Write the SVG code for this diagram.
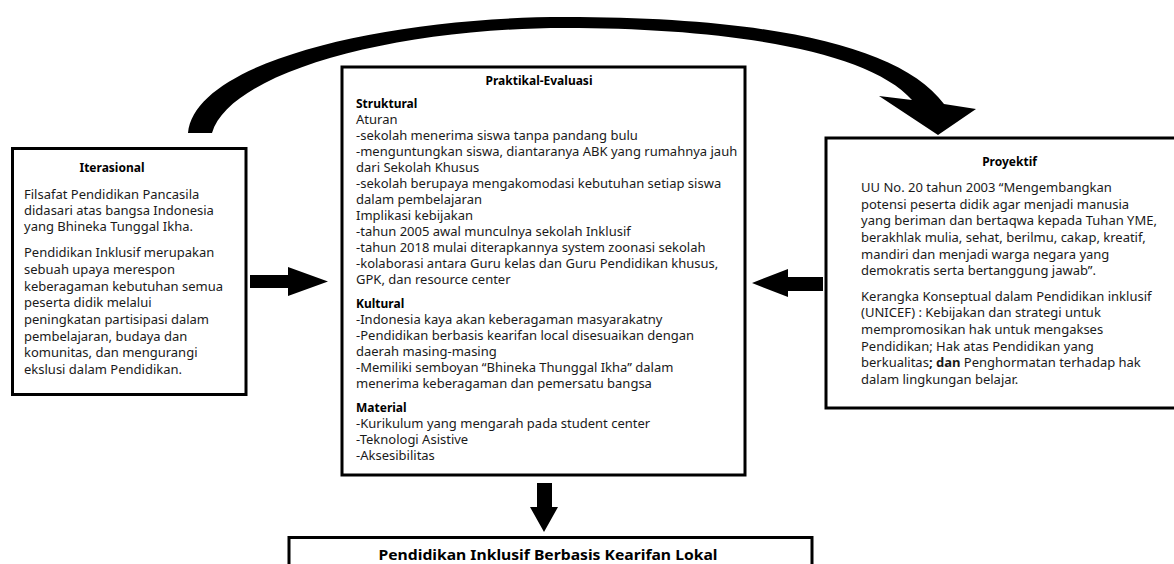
<svg xmlns="http://www.w3.org/2000/svg" width="1174" height="564" viewBox="0 0 1174 564">
<style>
.box{fill:#fff;stroke:#000;stroke-width:3}
.t{font-family:"Noto Sans","Open Sans","DejaVu Sans",sans-serif;font-size:13px;fill:#1a1a1a}
.h{font-family:"Noto Sans","Open Sans","DejaVu Sans",sans-serif;font-size:12px;font-weight:bold;fill:#000}
.c{text-anchor:middle}
.arr{fill:#000;stroke:none}
</style>
<rect width="1174" height="564" fill="#fff"/>
<g id="connectors">
<path class="arr" d="M 188,133 C 195,60 390,17 565,17 C 765,17 900,45 944,104 L 976,109 L 938,135 L 879,96 L 912,100 C 868,50 725,28 565,28 C 395,28 230,72 212,133 Z"/>
<polygon class="arr" points="250,275 288,275 288,267 328,281.5 288,296 288,288 250,288"/>
<polygon class="arr" points="823,277 788,277 788,269 752,283 788,297 788,291 823,291"/>
<polygon class="arr" points="537,483 552,483 552,507 558,507 544,532 530,507 537,507"/>
</g>
<g id="iterasional">
<rect class="box" x="12.5" y="148.5" width="233.5" height="246"/>
<text class="h c" x="112" y="172">Iterasional</text>
<text class="t" x="24">
<tspan x="24" y="198.5">Filsafat Pendidikan Pancasila</tspan>
<tspan x="24" y="214.5">didasari atas bangsa Indonesia</tspan>
<tspan x="24" y="230.5">yang Bhineka Tunggal Ikha.</tspan>
<tspan x="24" y="257">Pendidikan Inklusif merupakan</tspan>
<tspan x="24" y="274">sebuah upaya merespon</tspan>
<tspan x="24" y="290.7">keberagaman kebutuhan semua</tspan>
<tspan x="24" y="307.4">peserta didik melalui</tspan>
<tspan x="24" y="324">peningkatan partisipasi dalam</tspan>
<tspan x="24" y="340.7">pembelajaran, budaya dan</tspan>
<tspan x="24" y="357.4">komunitas, dan mengurangi</tspan>
<tspan x="24" y="374">ekslusi dalam Pendidikan.</tspan>
</text>
</g>
<g id="praktikal-evaluasi">
<rect class="box" x="342" y="67" width="403" height="408"/>
<text class="h c" x="539" y="85">Praktikal-Evaluasi</text>
<text class="h" x="356" y="108">Struktural</text>
<text class="t" x="356">
<tspan x="356" y="124">Aturan</tspan>
<tspan x="356" y="140">-sekolah menerima siswa tanpa pandang bulu</tspan>
<tspan x="356" y="156">-menguntungkan siswa, diantaranya ABK yang rumahnya jauh</tspan>
<tspan x="356" y="172">dari Sekolah Khusus</tspan>
<tspan x="356" y="188">-sekolah berupaya mengakomodasi kebutuhan setiap siswa</tspan>
<tspan x="356" y="204">dalam pembelajaran</tspan>
<tspan x="356" y="220">Implikasi kebijakan</tspan>
<tspan x="356" y="236">-tahun 2005 awal munculnya sekolah Inklusif</tspan>
<tspan x="356" y="252">-tahun 2018 mulai diterapkannya system zoonasi sekolah</tspan>
<tspan x="356" y="268">-kolaborasi antara Guru kelas dan Guru Pendidikan khusus,</tspan>
<tspan x="356" y="284">GPK, dan resource center</tspan>
</text>
<text class="h" x="356" y="307.5">Kultural</text>
<text class="t" x="356">
<tspan x="356" y="323.5">-Indonesia kaya akan keberagaman masyarakatny</tspan>
<tspan x="356" y="339.5">-Pendidikan berbasis kearifan local disesuaikan dengan</tspan>
<tspan x="356" y="355.5">daerah masing-masing</tspan>
<tspan x="356" y="371.5">-Memiliki semboyan “Bhineka Thunggal Ikha” dalam</tspan>
<tspan x="356" y="387.5">menerima keberagaman dan pemersatu bangsa</tspan>
</text>
<text class="h" x="356" y="411.5">Material</text>
<text class="t" x="356">
<tspan x="356" y="427.5">-Kurikulum yang mengarah pada student center</tspan>
<tspan x="356" y="443.5">-Teknologi Asistive</tspan>
<tspan x="356" y="459.5">-Aksesibilitas</tspan>
</text>
</g>
<g id="proyektif">
<rect class="box" x="826" y="138" width="360" height="270"/>
<text class="h c" x="1009.5" y="166">Proyektif</text>
<text class="t" x="861">
<tspan x="861" y="192">UU No. 20 tahun 2003 “Mengembangkan</tspan>
<tspan x="861" y="208.7">potensi peserta didik agar menjadi manusia</tspan>
<tspan x="861" y="225.4">yang beriman dan bertaqwa kepada Tuhan YME,</tspan>
<tspan x="861" y="242">berakhlak mulia, sehat, berilmu, cakap, kreatif,</tspan>
<tspan x="861" y="258.7">mandiri dan menjadi warga negara yang</tspan>
<tspan x="861" y="275.4">demokratis serta bertanggung jawab”.</tspan>
<tspan x="861" y="300.5">Kerangka Konseptual dalam Pendidikan inklusif</tspan>
<tspan x="861" y="317.2">(UNICEF) : Kebijakan dan strategi untuk</tspan>
<tspan x="861" y="334">mempromosikan hak untuk mengakses</tspan>
<tspan x="861" y="350.6">Pendidikan; Hak atas Pendidikan yang</tspan>
<tspan x="861" y="367.3">berkualitas<tspan font-weight="bold">; dan</tspan> Penghormatan terhadap hak</tspan>
<tspan x="861" y="384">dalam lingkungan belajar.</tspan>
</text>
</g>
<g id="hasil">
<rect class="box" x="289" y="537.5" width="523" height="60"/>
<text class="c" x="548" y="560" font-family="Noto Sans, Open Sans, sans-serif" font-size="15" font-weight="bold" fill="#000" textLength="339" lengthAdjust="spacingAndGlyphs">Pendidikan Inklusif Berbasis Kearifan Lokal</text>
</g>
</svg>
